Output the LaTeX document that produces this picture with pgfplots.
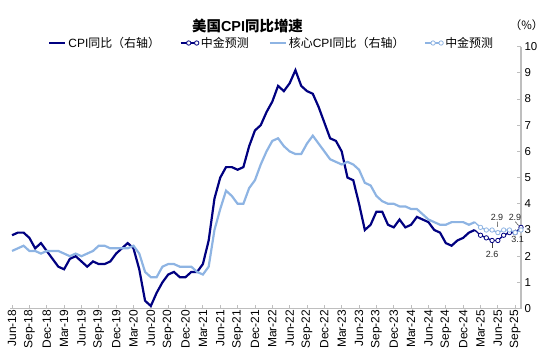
\documentclass[border=0pt]{standalone}
\usepackage{pgfplots}
\pgfplotsset{compat=1.18}
\usepackage{pgfplotstable}
\usepackage{fontspec}
\setmainfont{Liberation Sans}
\newfontfamily\cjk{Noto Sans CJK SC}
\definecolor{navy}{RGB}{0,0,128}
\definecolor{lblue}{RGB}{142,180,227}
\definecolor{axgray}{RGB}{190,190,190}

\pgfplotstableread{
x y
0 2.8
1 2.9
2 2.9
3 2.7
4 2.3
5 2.5
6 2.2
7 1.9
8 1.6
9 1.5
10 1.9
11 2.0
12 1.8
13 1.6
14 1.8
15 1.7
16 1.7
17 1.8
18 2.1
19 2.3
20 2.5
21 2.3
22 1.5
23 0.3
24 0.1
25 0.6
26 1.0
27 1.3
28 1.4
29 1.2
30 1.2
31 1.4
32 1.4
33 1.7
34 2.6
35 4.2
36 5.0
37 5.4
38 5.4
39 5.3
40 5.4
41 6.2
42 6.8
43 7.0
44 7.5
45 7.9
46 8.5
47 8.3
48 8.6
49 9.1
50 8.5
51 8.3
52 8.2
53 7.7
54 7.1
55 6.5
56 6.4
57 6.0
58 5.0
59 4.9
60 4.0
61 3.0
62 3.2
63 3.7
64 3.7
65 3.2
66 3.1
67 3.4
68 3.1
69 3.2
70 3.5
71 3.4
72 3.3
73 3.0
74 2.9
75 2.5
76 2.4
77 2.6
78 2.7
79 2.9
80 3.0
}\cpi

\pgfplotstableread{
x y
0 2.2
1 2.3
2 2.4
3 2.2
4 2.2
5 2.1
6 2.2
7 2.2
8 2.2
9 2.1
10 2.0
11 2.1
12 2.0
13 2.1
14 2.2
15 2.4
16 2.4
17 2.3
18 2.3
19 2.3
20 2.3
21 2.4
22 2.1
23 1.4
24 1.2
25 1.2
26 1.6
27 1.7
28 1.7
29 1.6
30 1.6
31 1.6
32 1.4
33 1.3
34 1.6
35 3.0
36 3.8
37 4.5
38 4.3
39 4.0
40 4.0
41 4.6
42 4.9
43 5.5
44 6.0
45 6.4
46 6.5
47 6.2
48 6.0
49 5.9
50 5.9
51 6.3
52 6.6
53 6.3
54 6.0
55 5.7
56 5.6
57 5.5
58 5.6
59 5.5
60 5.3
61 4.8
62 4.7
63 4.3
64 4.1
65 4.0
66 4.0
67 3.9
68 3.9
69 3.8
70 3.8
71 3.6
72 3.4
73 3.3
74 3.2
75 3.2
76 3.3
77 3.3
78 3.3
79 3.2
80 3.3
}\core

\pgfplotstableread{
x y
80 3.0
81 2.8
82 2.7
83 2.6
84 2.6
85 2.8
86 2.9
87 2.9
88 3.1
}\cpif

\pgfplotstableread{
x y
80 3.3
81 3.1
82 3.0
83 3.0
84 2.9
85 3.0
86 3.0
87 2.9
88 3.0
}\coref

\begin{document}
\begin{tikzpicture}
\begin{axis}[
  scale only axis, width=511bp, height=262bp,
  xmin=-0.35, xmax=88, ymin=0, ymax=10,
  axis x line=bottom, axis y line=right,
  axis line style={-, axgray},
  x axis line style={line width=0.8pt},
  y axis line style={line width=1.6pt},
  tick align=inside, major tick length=4bp,
  tick style={axgray, line width=0.8pt},
  xtick={0,3,...,87},
  xticklabels={Jun-18,Sep-18,Dec-18,Mar-19,Jun-19,Sep-19,Dec-19,Mar-20,Jun-20,Sep-20,Dec-20,Mar-21,Jun-21,Sep-21,Dec-21,Mar-22,Jun-22,Sep-22,Dec-22,Mar-23,Jun-23,Sep-23,Dec-23,Mar-24,Jun-24,Sep-24,Dec-24,Mar-25,Jun-25,Sep-25},
  ytick={0,1,...,10},
  xticklabel style={rotate=90, anchor=east, inner sep=1pt, font=\fontsize{12}{12}\selectfont},
  yticklabel style={font=\fontsize{11.5}{12}\selectfont},
  /pgf/number format/assume math mode=true,
  clip=false,
  legend columns=4,
  legend cell align=left,
  legend style={draw=none, fill=none, inner sep=0pt, at={(axis description cs:0.0744,1.0137)}, anchor=west,
    font=\fontsize{12}{13}\selectfont,
    /tikz/every even column/.append style={column sep=18bp}},
  legend image code/.code={\draw[mark repeat=2,mark phase=2,#1] plot coordinates {(0bp,0bp) (8bp,0bp) (16bp,0bp)};},
]
\addplot[navy, line width=2.2pt, mark=none] table[x=x,y=y] {\cpi};
\addlegendentry{CPI{\cjk 同比（右轴）}}
\addplot[navy, line width=1.3pt, mark=*, mark size=2.2pt, mark indices={2,...,9}, mark options={fill=white, draw=navy, line width=0.8pt}] table[x=x,y=y] {\cpif};
\addlegendentry{{\cjk 中金预测}}
\addplot[lblue, line width=2.2pt, mark=none] table[x=x,y=y] {\core};
\addlegendentry{{\cjk 核心}CPI{\cjk 同比（右轴）}}
\addplot[lblue, line width=1.3pt, mark=*, mark size=2.2pt, mark indices={2,...,9}, mark options={fill=white, draw=lblue, line width=0.8pt}] table[x=x,y=y] {\coref};
\addlegendentry{{\cjk 中金预测}}

\draw[black!75, line width=0.5pt] (axis cs:83,2.5) -- (axis cs:83,2.3);
\node[font=\fontsize{9}{10}\selectfont, text=black!85] at (axis cs:83,2.08) {2.6};
\draw[black!75, line width=0.5pt] (axis cs:83.9,3.32) -- (axis cs:83.95,3.12);
\node[font=\fontsize{9}{10}\selectfont, text=black!85] at (axis cs:83.85,3.48) {2.9};
\draw[black!75, line width=0.5pt] (axis cs:87.0,3.32) -- (axis cs:87.6,3.17);
\node[font=\fontsize{9}{10}\selectfont, text=black!85] at (axis cs:86.96,3.48) {2.9};
\draw[black!75, line width=0.5pt] (axis cs:87.2,2.86) -- (axis cs:87.0,3.02);
\node[font=\fontsize{9}{10}\selectfont, text=black!85] at (axis cs:87.4,2.65) {3.1};

\node[font=\fontsize{14.5}{16}\selectfont\bfseries] at (axis description cs:0.4648,1.0786) {{\cjk\bfseries 美国}CPI{\cjk\bfseries 同比增速}};
\node[font=\fontsize{11.5}{13}\selectfont] at (axis description cs:1.0108,1.0824) {{\cjk （\%）}};
\end{axis}
\pgfresetboundingbox
\path[use as bounding box] (-10bp,-52.4bp) rectangle (540bp,308.6bp);
\end{tikzpicture}
\end{document}
